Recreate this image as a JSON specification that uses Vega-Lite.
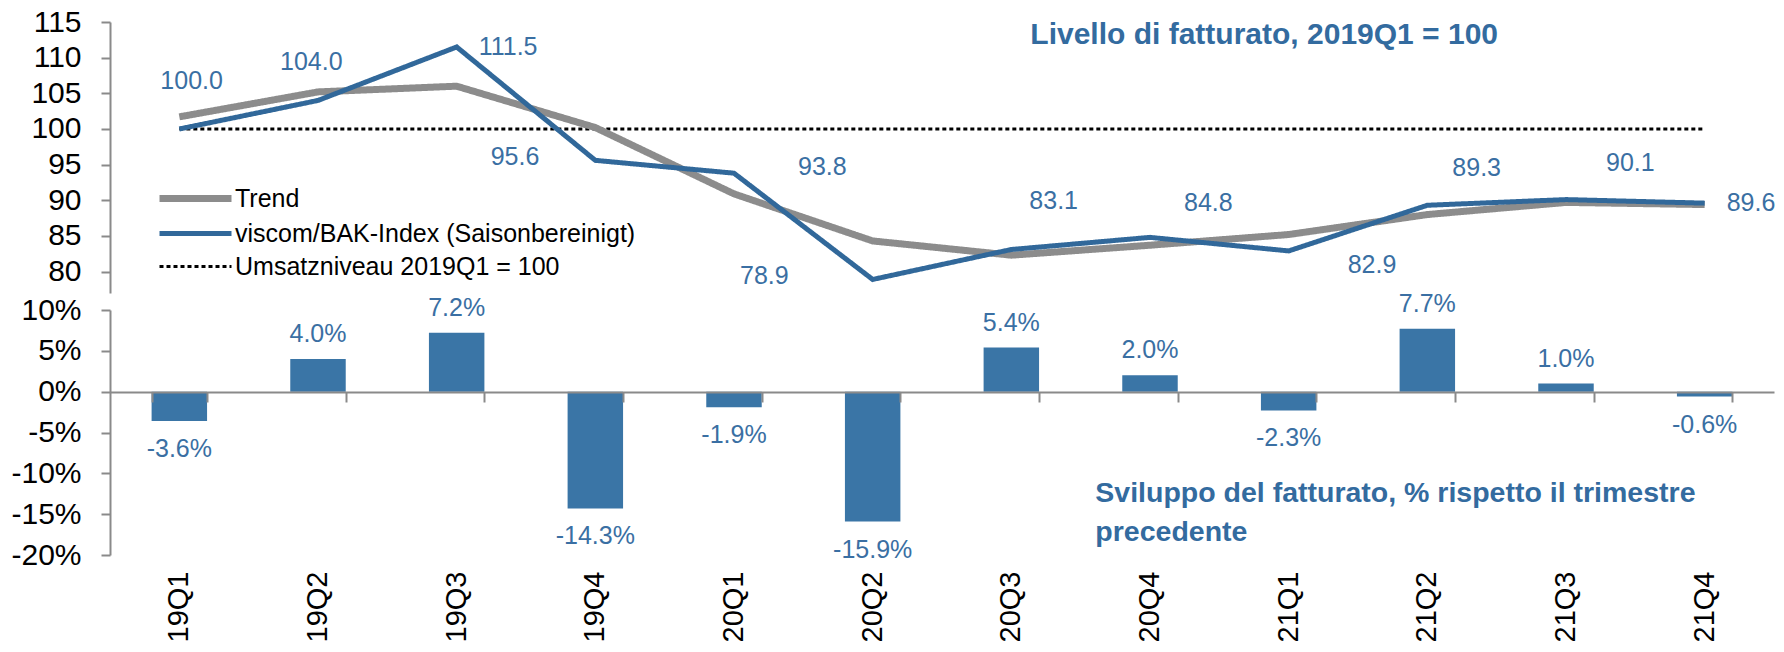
{
  "$schema": "https://vega.github.io/schema/vega-lite/v6.json",
  "background": "white",
  "padding": {"left": 10, "top": 7, "right": 5, "bottom": 5},
  "bounds": "flush",
  "spacing": 17,
  "config": {
    "view": {"stroke": null},
    "locale": {"number": {"decimal": ".", "thousands": ",", "grouping": [3], "currency": ["", ""], "minus": "-"}},
    "axis": {"labelFont": "Liberation Sans", "labelColor": "#000000", "domainColor": "#8A8A8A", "tickColor": "#8A8A8A", "domainWidth": 2, "tickWidth": 2, "grid": false, "title": null},
    "legend": {"orient": "none", "legendX": 64, "legendY": 155, "title": null, "symbolType": "M-2,0H2", "symbolSize": 1296, "labelFontSize": 25, "labelFont": "Liberation Sans", "labelColor": "#000000", "labelOffset": 18, "rowPadding": 0, "padding": 0, "labelLimit": 600},
    "text": {"font": "Liberation Sans", "fontSize": 25, "color": "#3A6FA3"}
  },
  "datasets": {
    "lines": [
      {"q": "19Q1", "series": "Umsatzniveau 2019Q1 = 100", "value": 100},
      {"q": "19Q2", "series": "Umsatzniveau 2019Q1 = 100", "value": 100},
      {"q": "19Q3", "series": "Umsatzniveau 2019Q1 = 100", "value": 100},
      {"q": "19Q4", "series": "Umsatzniveau 2019Q1 = 100", "value": 100},
      {"q": "20Q1", "series": "Umsatzniveau 2019Q1 = 100", "value": 100},
      {"q": "20Q2", "series": "Umsatzniveau 2019Q1 = 100", "value": 100},
      {"q": "20Q3", "series": "Umsatzniveau 2019Q1 = 100", "value": 100},
      {"q": "20Q4", "series": "Umsatzniveau 2019Q1 = 100", "value": 100},
      {"q": "21Q1", "series": "Umsatzniveau 2019Q1 = 100", "value": 100},
      {"q": "21Q2", "series": "Umsatzniveau 2019Q1 = 100", "value": 100},
      {"q": "21Q3", "series": "Umsatzniveau 2019Q1 = 100", "value": 100},
      {"q": "21Q4", "series": "Umsatzniveau 2019Q1 = 100", "value": 100},
      {"q": "19Q1", "series": "Trend", "value": 101.7},
      {"q": "19Q2", "series": "Trend", "value": 105.2},
      {"q": "19Q3", "series": "Trend", "value": 106.0},
      {"q": "19Q4", "series": "Trend", "value": 100.2},
      {"q": "20Q1", "series": "Trend", "value": 90.9},
      {"q": "20Q2", "series": "Trend", "value": 84.3},
      {"q": "20Q3", "series": "Trend", "value": 82.3},
      {"q": "20Q4", "series": "Trend", "value": 83.7},
      {"q": "21Q1", "series": "Trend", "value": 85.2},
      {"q": "21Q2", "series": "Trend", "value": 88.0},
      {"q": "21Q3", "series": "Trend", "value": 89.7},
      {"q": "21Q4", "series": "Trend", "value": 89.4},
      {"q": "19Q1", "series": "viscom/BAK-Index (Saisonbereinigt)", "value": 100.0},
      {"q": "19Q2", "series": "viscom/BAK-Index (Saisonbereinigt)", "value": 104.0},
      {"q": "19Q3", "series": "viscom/BAK-Index (Saisonbereinigt)", "value": 111.5},
      {"q": "19Q4", "series": "viscom/BAK-Index (Saisonbereinigt)", "value": 95.6},
      {"q": "20Q1", "series": "viscom/BAK-Index (Saisonbereinigt)", "value": 93.8},
      {"q": "20Q2", "series": "viscom/BAK-Index (Saisonbereinigt)", "value": 78.9},
      {"q": "20Q3", "series": "viscom/BAK-Index (Saisonbereinigt)", "value": 83.1},
      {"q": "20Q4", "series": "viscom/BAK-Index (Saisonbereinigt)", "value": 84.8},
      {"q": "21Q1", "series": "viscom/BAK-Index (Saisonbereinigt)", "value": 82.9},
      {"q": "21Q2", "series": "viscom/BAK-Index (Saisonbereinigt)", "value": 89.3},
      {"q": "21Q3", "series": "viscom/BAK-Index (Saisonbereinigt)", "value": 90.1},
      {"q": "21Q4", "series": "viscom/BAK-Index (Saisonbereinigt)", "value": 89.6}
    ],
    "bars": [
      {"q": "19Q1", "pct": -0.036},
      {"q": "19Q2", "pct": 0.040},
      {"q": "19Q3", "pct": 0.072},
      {"q": "19Q4", "pct": -0.143},
      {"q": "20Q1", "pct": -0.019},
      {"q": "20Q2", "pct": -0.159},
      {"q": "20Q3", "pct": 0.054},
      {"q": "20Q4", "pct": 0.020},
      {"q": "21Q1", "pct": -0.023},
      {"q": "21Q2", "pct": 0.077},
      {"q": "21Q3", "pct": 0.010},
      {"q": "21Q4", "pct": -0.006}
    ]
  },
  "vconcat": [
    {
      "width": 1664,
      "height": 271,
      "data": {"name": "lines"},
      "encoding": {
        "x": {"field": "q", "type": "ordinal", "axis": null, "scale": {"domain": ["19Q1","19Q2","19Q3","19Q4","20Q1","20Q2","20Q3","20Q4","21Q1","21Q2","21Q3","21Q4"]}},
        "y": {"field": "value", "type": "quantitative", "scale": {"domain": [77, 115], "nice": false, "zero": false},
              "axis": {"values": [80, 85, 90, 95, 100, 105, 110, 115], "labelFontSize": 30, "tickSize": 9, "labelPadding": 20}}
      },
      "layer": [
        {
          "transform": [{"filter": "datum.series === 'Umsatzniveau 2019Q1 = 100'"}],
          "mark": {"type": "line"},
          "encoding": {
            "color": {"field": "series", "type": "nominal", "scale": {"domain": ["Trend", "viscom/BAK-Index (Saisonbereinigt)", "Umsatzniveau 2019Q1 = 100"], "range": ["#8C8C8C", "#31689A", "#000000"]}},
            "strokeWidth": {"field": "series", "type": "nominal", "scale": {"domain": ["Trend", "viscom/BAK-Index (Saisonbereinigt)", "Umsatzniveau 2019Q1 = 100"], "range": [7, 3, 1.4]}},
            "strokeDash": {"field": "series", "type": "nominal", "scale": {"domain": ["Trend", "viscom/BAK-Index (Saisonbereinigt)", "Umsatzniveau 2019Q1 = 100"], "range": [[1, 0], [1, 0], [4, 3]]}}
          }
        },
        {
          "transform": [{"filter": "datum.series === 'Trend'"}],
          "mark": {"type": "line"},
          "encoding": {
            "color": {"field": "series", "type": "nominal"},
            "strokeWidth": {"field": "series", "type": "nominal"},
            "strokeDash": {"field": "series", "type": "nominal"}
          }
        },
        {
          "transform": [{"filter": "datum.series === 'viscom/BAK-Index (Saisonbereinigt)'"}],
          "mark": {"type": "line"},
          "encoding": {
            "color": {"field": "series", "type": "nominal"},
            "strokeWidth": {"field": "series", "type": "nominal"},
            "strokeDash": {"field": "series", "type": "nominal"}
          }
        },
        {"transform": [{"filter": "datum.series === 'viscom/BAK-Index (Saisonbereinigt)' && datum.q === '19Q1'"}], "mark": {"type": "text", "align": "left", "baseline": "middle", "dx": -19, "dy": -48}, "encoding": {"text": {"field": "value", "type": "quantitative", "format": ".1f"}}},
        {"transform": [{"filter": "datum.series === 'viscom/BAK-Index (Saisonbereinigt)' && datum.q === '19Q2'"}], "mark": {"type": "text", "align": "left", "baseline": "middle", "dx": -38, "dy": -38}, "encoding": {"text": {"field": "value", "type": "quantitative", "format": ".1f"}}},
        {"transform": [{"filter": "datum.series === 'viscom/BAK-Index (Saisonbereinigt)' && (datum.q === '19Q3' || datum.q === '21Q4')"}], "mark": {"type": "text", "align": "left", "baseline": "middle", "dx": 22, "dy": 0}, "encoding": {"text": {"field": "value", "type": "quantitative", "format": ".1f"}}},
        {"transform": [{"filter": "datum.series === 'viscom/BAK-Index (Saisonbereinigt)' && datum.q === '19Q4'"}], "mark": {"type": "text", "align": "right", "baseline": "middle", "dx": -56, "dy": -3}, "encoding": {"text": {"field": "value", "type": "quantitative", "format": ".1f"}}},
        {"transform": [{"filter": "datum.series === 'viscom/BAK-Index (Saisonbereinigt)' && datum.q === '20Q1'"}], "mark": {"type": "text", "align": "left", "baseline": "middle", "dx": 64, "dy": -6}, "encoding": {"text": {"field": "value", "type": "quantitative", "format": ".1f"}}},
        {"transform": [{"filter": "datum.series === 'viscom/BAK-Index (Saisonbereinigt)' && datum.q === '20Q2'"}], "mark": {"type": "text", "align": "right", "baseline": "middle", "dx": -84, "dy": -3}, "encoding": {"text": {"field": "value", "type": "quantitative", "format": ".1f"}}},
        {"transform": [{"filter": "datum.series === 'viscom/BAK-Index (Saisonbereinigt)' && datum.q === '20Q3'"}], "mark": {"type": "text", "align": "left", "baseline": "middle", "dx": 18, "dy": -48}, "encoding": {"text": {"field": "value", "type": "quantitative", "format": ".1f"}}},
        {"transform": [{"filter": "datum.series === 'viscom/BAK-Index (Saisonbereinigt)' && datum.q === '20Q4'"}], "mark": {"type": "text", "align": "left", "baseline": "middle", "dx": 34, "dy": -34}, "encoding": {"text": {"field": "value", "type": "quantitative", "format": ".1f"}}},
        {"transform": [{"filter": "datum.series === 'viscom/BAK-Index (Saisonbereinigt)' && datum.q === '21Q1'"}], "mark": {"type": "text", "align": "left", "baseline": "middle", "dx": 59, "dy": 14}, "encoding": {"text": {"field": "value", "type": "quantitative", "format": ".1f"}}},
        {"transform": [{"filter": "datum.series === 'viscom/BAK-Index (Saisonbereinigt)' && datum.q === '21Q2'"}], "mark": {"type": "text", "align": "left", "baseline": "middle", "dx": 25, "dy": -37}, "encoding": {"text": {"field": "value", "type": "quantitative", "format": ".1f"}}},
        {"transform": [{"filter": "datum.series === 'viscom/BAK-Index (Saisonbereinigt)' && datum.q === '21Q3'"}], "mark": {"type": "text", "align": "left", "baseline": "middle", "dx": 40, "dy": -37}, "encoding": {"text": {"field": "value", "type": "quantitative", "format": ".1f"}}},
        {
          "transform": [{"filter": "datum.series === 'Trend' && datum.q === '20Q3'"}],
          "mark": {"type": "text", "align": "left", "baseline": "middle", "dx": 19, "fontWeight": "bold", "fontSize": 30, "color": "#336B9F"},
          "encoding": {"x": {"datum": "20Q3", "type": "ordinal", "axis": null}, "y": {"datum": 113.2, "type": "quantitative"}, "text": {"value": "Livello di fatturato, 2019Q1 = 100"}}
        }
      ]
    },
    {
      "width": 1664,
      "height": 245,
      "data": {"name": "bars"},
      "layer": [
        {
          "mark": {"type": "bar", "color": "#3A75A6"},
          "encoding": {
            "x": {"field": "q", "type": "ordinal", "scale": {"domain": ["19Q1","19Q2","19Q3","19Q4","20Q1","20Q2","20Q3","20Q4","21Q1","21Q2","21Q3","21Q4"], "paddingInner": 0.6, "paddingOuter": 0.3},
                  "axis": {"orient": "bottom", "labelAngle": -90, "domain": false, "ticks": false, "labelPadding": 16, "labelFontSize": 29, "labelFont": "Liberation Sans"}},
            "y": {"field": "pct", "type": "quantitative", "scale": {"domain": [-0.2, 0.1], "nice": false},
                  "axis": {"values": [-0.2, -0.15, -0.1, -0.05, 0, 0.05, 0.1], "format": ".0%", "labelFontSize": 30, "tickSize": 9, "labelPadding": 20}}
          }
        },
        {
          "transform": [{"filter": "datum.pct >= 0"}],
          "mark": {"type": "text", "baseline": "middle", "dy": -25},
          "encoding": {
            "x": {"field": "q", "type": "ordinal", "axis": {"orient": "bottom", "offset": -163, "labels": false, "domain": true, "ticks": true, "tickBand": "extent", "tickSize": 10, "zindex": 1}},
            "y": {"field": "pct", "type": "quantitative"},
            "text": {"field": "pct", "type": "quantitative", "format": ".1%"}
          }
        },
        {
          "transform": [{"filter": "datum.pct < 0"}],
          "mark": {"type": "text", "baseline": "middle", "dy": 28},
          "encoding": {
            "x": {"field": "q", "type": "ordinal", "axis": null},
            "y": {"field": "pct", "type": "quantitative"},
            "text": {"field": "pct", "type": "quantitative", "format": ".1%"}
          }
        },
        {
          "transform": [{"filter": "datum.q === '20Q3'"}],
          "mark": {"type": "text", "align": "left", "baseline": "top", "dx": 84, "fontWeight": "bold", "fontSize": 28.5, "lineHeight": 39, "color": "#336B9F"},
          "encoding": {"x": {"datum": "20Q3", "type": "ordinal", "axis": null}, "y": {"datum": -0.1064, "type": "quantitative"}, "text": {"value": ["Sviluppo del fatturato, % rispetto il trimestre", "precedente"]}}
        }
      ],
      "resolve": {"axis": {"x": "independent"}}
    }
  ]
}
